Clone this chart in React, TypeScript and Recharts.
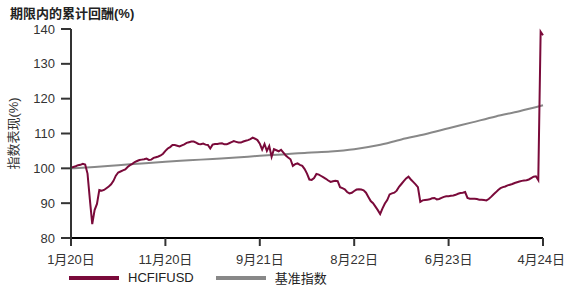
import { LineChart, Line, XAxis, YAxis, Legend, Label } from "recharts";

const TITLE = "期限内的累计回酬(%)";
const Y_LABEL = "指数表现(%)";
const FUND_NAME = "HCFIFUSD";
const BENCH_NAME = "基准指数";

const TICK_LABELS = ["1月20日", "11月20日", "9月21日", "8月22日", "6月23日", "4月24日"];
const Y_TICKS = [80, 90, 100, 110, 120, 130, 140];

// fund, one reading every half step of the time axis (0..100)
const FUND = [
  100.2, 100.4, 100.6, 100.9, 101.0, 101.3, 101.1, 98.5, 91.0, 84.0,
  88.0, 89.8, 93.8, 93.6, 93.8, 94.3, 94.8, 95.4, 96.4, 97.9,
  98.8, 99.1, 99.4, 99.7, 100.4, 100.9, 101.3, 101.8, 102.1, 102.4,
  102.5, 102.6, 102.8, 102.4, 102.5, 103.0, 103.2, 103.4, 103.7, 104.2,
  105.0, 105.7, 106.1, 106.7, 106.7, 106.5, 106.3, 106.6, 106.9, 107.3,
  107.5, 107.7, 107.7, 107.4, 107.0, 106.9, 107.1, 106.8, 106.7, 105.7,
  106.8, 107.0, 107.0, 107.1, 107.2, 106.9, 106.9, 107.2, 107.5, 107.8,
  107.6, 107.4, 107.4, 107.7, 107.9, 108.1, 108.4, 108.8, 108.5, 108.1,
  107.1, 105.4, 107.0, 105.0, 106.4, 103.3, 105.5, 105.2, 104.9, 105.3,
  104.5, 103.7, 103.1, 102.6, 100.7, 101.2, 101.4, 101.0, 100.7, 99.8,
  98.5, 96.8, 96.7, 97.2, 98.4, 98.2, 97.8, 97.4, 97.0, 96.5,
  96.1, 96.3, 96.4, 96.3, 94.6, 94.3, 94.0, 93.2, 92.8, 93.0,
  93.5, 93.9, 94.0, 93.9, 93.7, 93.0, 91.8, 90.6, 90.0, 89.0,
  88.0, 86.9, 88.5, 89.9, 90.9, 92.5, 92.8, 93.0, 93.6, 94.7,
  95.5, 96.3, 97.1, 97.6, 96.8, 96.1, 95.4, 94.6, 90.4, 90.8,
  90.9, 91.0, 91.1, 91.4, 91.5, 91.1, 91.2, 91.5, 91.8, 92.0,
  92.0, 92.1, 92.2, 92.4, 92.7, 92.9, 93.0, 93.2, 91.5, 91.3,
  91.3, 91.3, 91.2, 91.0, 91.0, 90.9, 90.8, 91.2, 91.8, 92.5,
  93.1, 93.8, 94.3, 94.6, 94.8, 95.1, 95.3, 95.5, 95.8, 96.0,
  96.2, 96.4, 96.5, 96.6, 96.8, 97.2, 97.6, 97.7, 96.6, 139.2,
  138.2,
];

// benchmark, one reading every 5 steps
const BENCH = [
  100.0, 100.4, 100.9, 101.4, 101.9, 102.3, 102.7, 103.1, 103.6, 104.0,
  104.5, 104.85, 105.5, 106.6, 108.3, 109.8, 111.5, 113.2, 114.9, 116.4,
  118.1,
];

const rows = FUND.map((v, i) => {
  const t = i / 2;
  const b = t % 5 === 0 ? BENCH[t / 5] : undefined;
  return { t, fund: v, bench: b };
});

const FONT = "'Liberation Sans', Arial, 'Noto Sans CJK SC', sans-serif";

function LegendContent() {
  const items = [
    { name: FUND_NAME, color: "#7a0a3a" },
    { name: BENCH_NAME, color: "#888888" },
  ];
  return (
    <div style={{ display: "flex", alignItems: "center", paddingLeft: 69, fontFamily: FONT, fontSize: 13, color: "#222" }}>
      {items.map((it) => (
        <div key={it.name} style={{ display: "flex", alignItems: "center", marginRight: 22 }}>
          <span style={{ display: "inline-block", width: 50, height: 4, background: it.color, marginRight: 9 }} />
          <span>{it.name}</span>
        </div>
      ))}
    </div>
  );
}

export default function App() {
  return (
    <div style={{ position: "absolute", left: 0, top: 0, width: 564, height: 285, background: "#fff", fontFamily: FONT }}>
      <div style={{ position: "absolute", left: 10, top: 6, fontSize: 13, fontWeight: 700, color: "#222", lineHeight: "16px" }}>
        {TITLE}
      </div>
      <LineChart width={564} height={285} data={rows} margin={{ top: 29, right: 21, left: 0, bottom: 0 }}>
        <XAxis
          dataKey="t"
          type="number"
          domain={[0, 100]}
          ticks={[0, 20, 40, 60, 80, 100]}
          tickFormatter={(v: number) => TICK_LABELS[Math.round(v / 20)]}
          height={30}
          stroke="#000"
          strokeWidth={2}
          tickSize={8}
          tickMargin={9}
          tick={{ fill: "#333", fontSize: 13, fontFamily: FONT }}
          tickLine={{ stroke: "#333", strokeWidth: 2 }}
        />
        <YAxis
          domain={[80, 140]}
          ticks={Y_TICKS}
          width={71}
          stroke="#333"
          strokeWidth={2}
          tickSize={10}
          tickMargin={6}
          tick={{ fill: "#333", fontSize: 13, fontFamily: FONT }}
          tickLine={{ stroke: "#333", strokeWidth: 2 }}
        >
          <Label
            value={Y_LABEL}
            angle={-90}
            position="insideLeft"
            offset={13}
            style={{ textAnchor: "middle", fill: "#333", fontSize: 13, fontFamily: FONT }}
          />
        </YAxis>
        <Legend verticalAlign="bottom" height={17} content={() => <LegendContent />} />
        <Line
          type="monotone"
          dataKey="bench"
          name={BENCH_NAME}
          stroke="#888888"
          strokeWidth={2}
          dot={false}
          connectNulls
          isAnimationActive={false}
        />
        <Line
          type="linear"
          dataKey="fund"
          name={FUND_NAME}
          stroke="#7a0a3a"
          strokeWidth={2}
          dot={false}
          isAnimationActive={false}
        />
      </LineChart>
    </div>
  );
}
